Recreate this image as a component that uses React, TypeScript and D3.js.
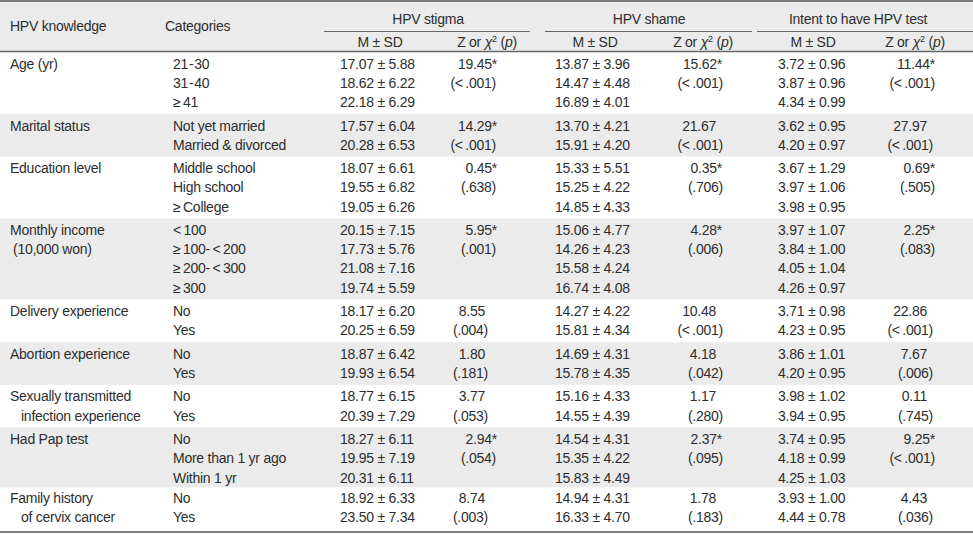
import React from "react";
import * as d3 from "d3";

const knowledge: string[][] = [
  ["Age (yr)"],
  ["Marital status"],
  ["Education level"],
  ["Monthly income", "(10,000 won)"],
  ["Delivery experience"],
  ["Abortion experience"],
  ["Sexually transmitted", "infection experience"],
  ["Had Pap test"],
  ["Family history", "of cervix cancer"],
];

const categories: string[][] = [
  ["21\u200a-\u200a30", "31\u200a-\u200a40", "\u2265\u200941"],
  ["Not yet married", "Married & divorced"],
  ["Middle school", "High school", "\u2265\u2009College"],
  ["<\u2009100", "\u2265\u2009100-\u2009<\u2009200", "\u2265\u2009200-\u2009<\u2009300", "\u2265\u2009300"],
  ["No", "Yes"],
  ["No", "Yes"],
  ["No", "Yes"],
  ["No", "More than 1 yr ago", "Within 1 yr"],
  ["No", "Yes"],
];

const stigmaMSD: number[][][] = [
  [[17.07, 5.88], [18.62, 6.22], [22.18, 6.29]],
  [[17.57, 6.04], [20.28, 6.53]],
  [[18.07, 6.61], [19.55, 6.82], [19.05, 6.26]],
  [[20.15, 7.15], [17.73, 5.76], [21.08, 7.16], [19.74, 5.59]],
  [[18.17, 6.2], [20.25, 6.59]],
  [[18.87, 6.42], [19.93, 6.54]],
  [[18.77, 6.15], [20.39, 7.29]],
  [[18.27, 6.11], [19.95, 7.19], [20.31, 6.11]],
  [[18.92, 6.33], [23.5, 7.34]],
];
const stigmaStat = ["19.45*", "14.29*", "0.45*", "5.95*", "8.55", "1.80", "3.77", "2.94*", "8.74"];
const stigmaP = ["<\u2009.001", "<\u2009.001", ".638", ".001", ".004", ".181", ".053", ".054", ".003"];

const shameMSD: number[][][] = [
  [[13.87, 3.96], [14.47, 4.48], [16.89, 4.01]],
  [[13.7, 4.21], [15.91, 4.2]],
  [[15.33, 5.51], [15.25, 4.22], [14.85, 4.33]],
  [[15.06, 4.77], [14.26, 4.23], [15.58, 4.24], [16.74, 4.08]],
  [[14.27, 4.22], [15.81, 4.34]],
  [[14.69, 4.31], [15.78, 4.35]],
  [[15.16, 4.33], [14.55, 4.39]],
  [[14.54, 4.31], [15.35, 4.22], [15.83, 4.49]],
  [[14.94, 4.31], [16.33, 4.7]],
];
const shameStat = ["15.62*", "21.67", "0.35*", "4.28*", "10.48", "4.18", "1.17", "2.37*", "1.78"];
const shameP = ["<\u2009.001", "<\u2009.001", ".706", ".006", "<\u2009.001", ".042", ".280", ".095", ".183"];

const intentMSD: number[][][] = [
  [[3.72, 0.96], [3.87, 0.96], [4.34, 0.99]],
  [[3.62, 0.95], [4.2, 0.97]],
  [[3.67, 1.29], [3.97, 1.06], [3.98, 0.95]],
  [[3.97, 1.07], [3.84, 1.0], [4.05, 1.04], [4.26, 0.97]],
  [[3.71, 0.98], [4.23, 0.95]],
  [[3.86, 1.01], [4.2, 0.95]],
  [[3.98, 1.02], [3.94, 0.95]],
  [[3.74, 0.95], [4.18, 0.99], [4.25, 1.03]],
  [[3.93, 1.0], [4.44, 0.78]],
];
const intentStat = ["11.44*", "27.97", "0.69*", "2.25*", "22.86", "7.67", "0.11", "9.25*", "4.43"];
const intentP = ["<\u2009.001", "<\u2009.001", ".505", ".083", "<\u2009.001", ".006", ".745", "<\u2009.001", ".036"];

const measures = ["HPV stigma", "HPV shame", "Intent to have HPV test"];

const W = 973;
const H = 535;
const TEXT = "#2e2e2e";
const GRAY = "#ebebeb";
const FONT = "'Liberation Sans', Arial, sans-serif";
const FS = 14;
const PM = " \u00b1 ";

// layout (pixel) settings
const knowledgeIndentPx: number[][] = [[0], [0], [0], [0, 3], [0], [0], [0, 11], [0], [0, 11]];
const colCfg = [
  { line: [324, 530], title: 428, msdX: 340, msdHead: 380, zHead: 487, starStat: 497, plainStat: 485, starP: 496, plainP: 488 },
  { line: [545, 752], title: 649, msdX: 555, msdHead: 595, zHead: 703, starStat: 722, plainStat: 716, starP: 723, plainP: 723 },
  { line: [757, 973], title: 858, msdX: 778, msdHead: 813, zHead: 915, starStat: 935, plainStat: 927, starP: 935, plainP: 933 },
];

const fmt = d3.format(".2f");

export default function App() {
  const L = 19.2;
  const PAD = 4.27;
  const BODY_TOP = 52;
  const LAST_LIFT = 3; // last group sits slightly higher in the reference
  const counts = categories.map((c) => c.length);
  const cum = [0, ...Array.from(d3.cumsum(counts))];
  const totalLines = cum[cum.length - 1];
  const nG = counts.length;
  const yLine = d3.scaleLinear().domain([0, totalLines]).range([0, totalLines * L]);
  const yGap = d3.scaleLinear().domain([0, nG]).range([BODY_TOP, BODY_TOP + nG * PAD]);
  const lift = (g: number) => (g === nG - 1 ? LAST_LIFT : 0);
  const groupTop = (g: number) => yGap(g) + yLine(cum[g]) - (g === nG - 1 ? 2 : 0);
  const baseY = (g: number, i: number) => yGap(g) + PAD / 2 + yLine(cum[g] + i) + L / 2 + 4.9 - lift(g);
  const bottom = yGap(nG) + yLine(totalLines);

  const msdAll = [stigmaMSD, shameMSD, intentMSD];
  const statAll = [stigmaStat, shameStat, intentStat];
  const pAll = [stigmaP, shameP, intentP];

  const tStyle: React.CSSProperties = { fontFamily: FONT, fontSize: FS, fill: TEXT, letterSpacing: -0.25 };

  return (
    <svg width={W} height={H} style={{ position: "absolute", left: 0, top: 0, background: "#fff" }}>
      <rect x={0} y={0} width={W} height={BODY_TOP} fill={GRAY} />
      {counts.map((n, g) =>
        g % 2 === 1 ? (
          <rect key={"b" + g} x={0} y={groupTop(g)} width={W} height={groupTop(g + 1) - groupTop(g)} fill={GRAY} />
        ) : null
      )}
      <line x1={0} x2={W} y1={1} y2={1} stroke="#555" strokeWidth={1.5} />
      <line x1={0} x2={W} y1={BODY_TOP - 0.5} y2={BODY_TOP - 0.5} stroke="#666" strokeWidth={1.3} />
      <line x1={0} x2={W} y1={bottom} y2={bottom} stroke="#555" strokeWidth={1.5} />

      <text x={10} y={31} style={tStyle}>HPV knowledge</text>
      <text x={165} y={31} style={tStyle}>Categories</text>
      {measures.map((m, k) => {
        const c = colCfg[k];
        return (
          <g key={"h" + k}>
            <text x={c.title} y={24} textAnchor="middle" style={tStyle}>{m}</text>
            <line x1={c.line[0]} x2={c.line[1]} y1={31.5} y2={31.5} stroke="#666" strokeWidth={1} />
            <text x={c.msdHead} y={47} textAnchor="middle" style={tStyle}>{"M" + PM + "SD"}</text>
            <text x={c.zHead} y={47} textAnchor="middle" style={tStyle}>
              Z or <tspan fontStyle="italic">χ</tspan>
              <tspan dy={-5} fontSize={9}>2</tspan>
              <tspan dy={5}> (</tspan>
              <tspan fontStyle="italic">p</tspan>)
            </text>
          </g>
        );
      })}

      {knowledge.map((lines, g) =>
        lines.map((t, i) => (
          <text key={"k" + g + i} x={10 + knowledgeIndentPx[g][i]} y={baseY(g, i)} style={tStyle}>
            {t}
          </text>
        ))
      )}
      {categories.map((cats, g) =>
        cats.map((t, i) => (
          <text key={"c" + g + i} x={173} y={baseY(g, i)} style={tStyle}>
            {t}
          </text>
        ))
      )}
      {msdAll.map((msd, k) =>
        msd.map((rows, g) =>
          rows.map((v, i) => (
            <text key={"m" + k + g + i} x={colCfg[k].msdX} y={baseY(g, i)} style={tStyle}>
              {fmt(v[0]) + PM + fmt(v[1])}
            </text>
          ))
        )
      )}
      {statAll.map((stats, k) =>
        stats.map((s, g) => {
          const star = s.endsWith("*");
          const c = colCfg[k];
          return (
            <g key={"s" + k + g}>
              <text x={star ? c.starStat : c.plainStat} y={baseY(g, 0)} textAnchor="end" style={tStyle}>
                {s}
              </text>
              <text x={star ? c.starP : c.plainP} y={baseY(g, 1)} textAnchor="end" style={tStyle}>
                {"(" + pAll[k][g] + ")"}
              </text>
            </g>
          );
        })
      )}
    </svg>
  );
}
